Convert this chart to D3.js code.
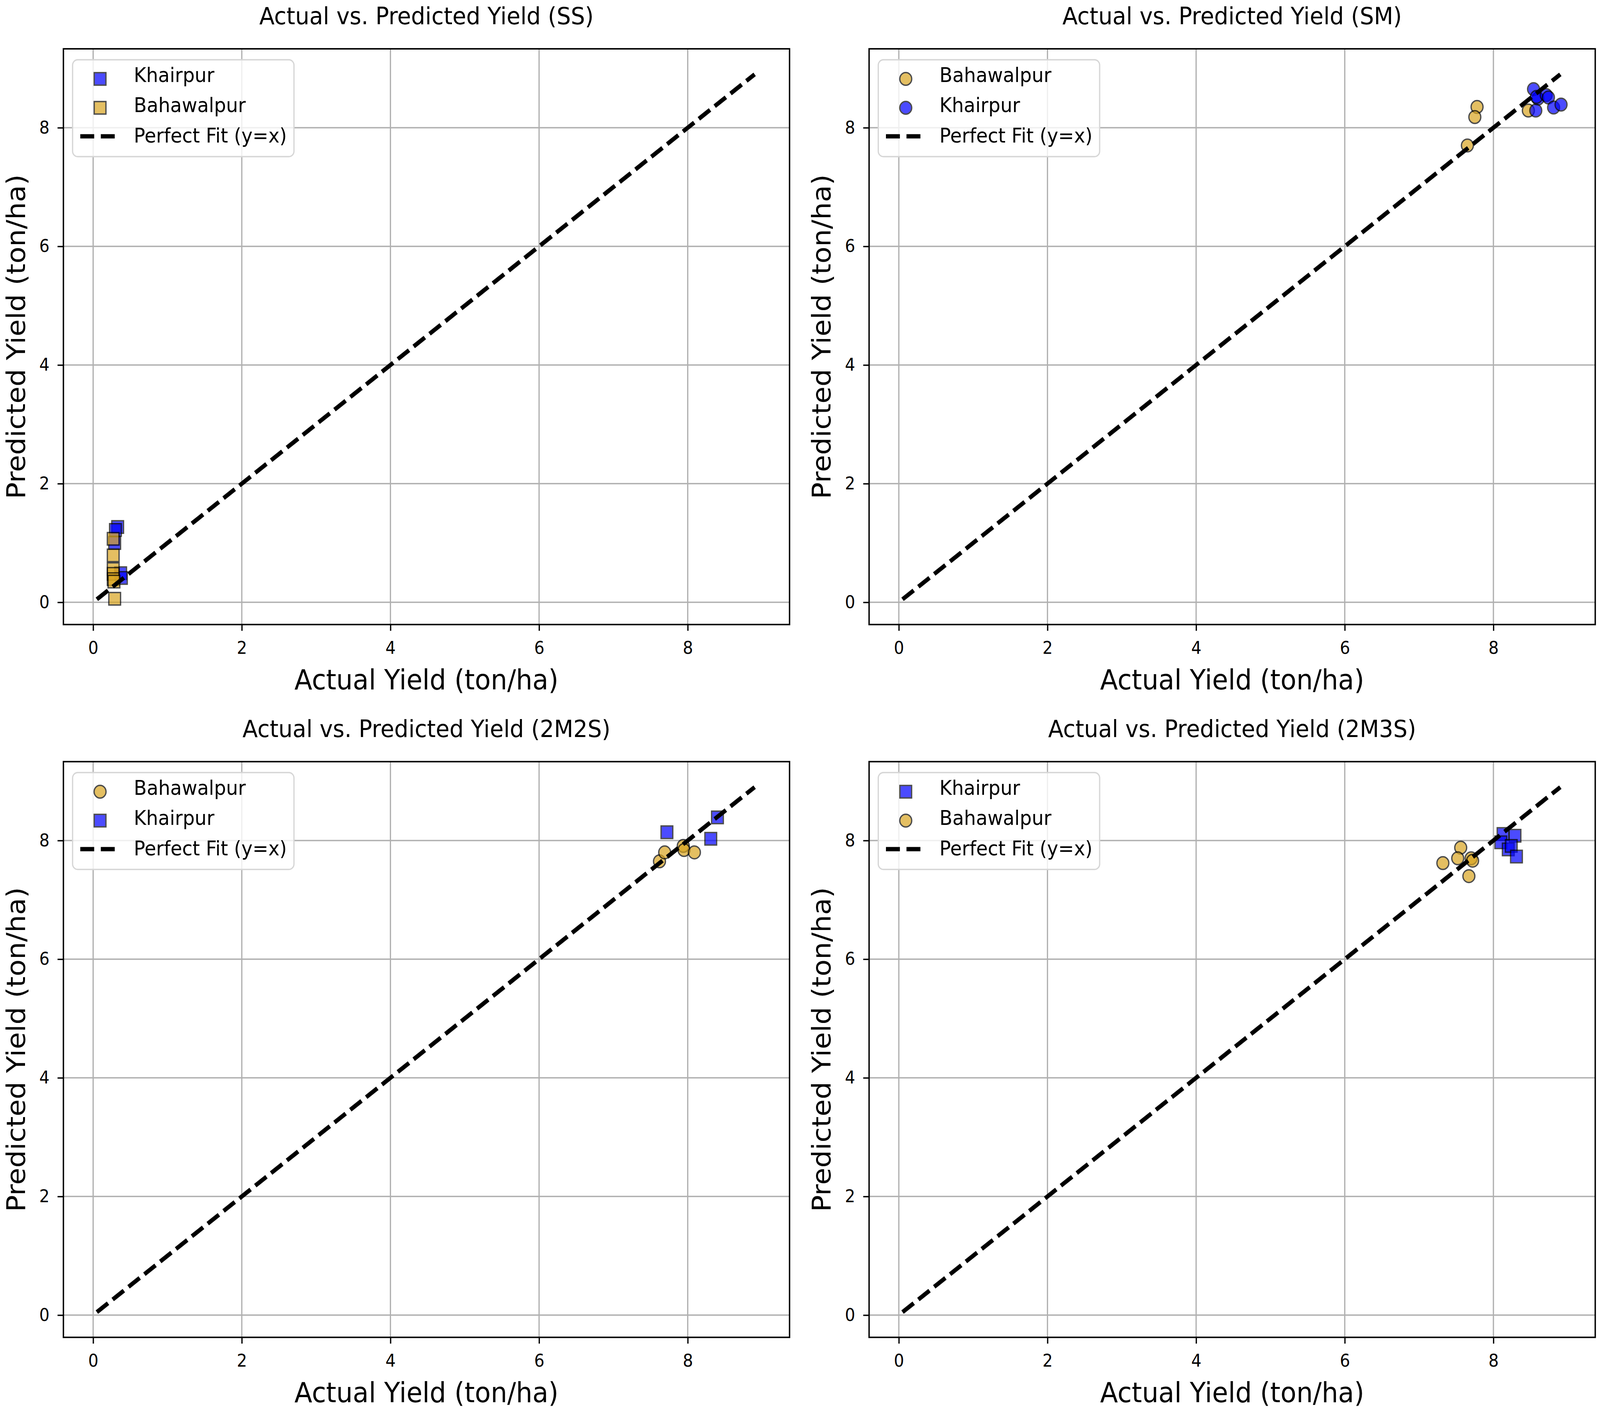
<!DOCTYPE html>
<html>
<head>
<meta charset="utf-8">
<script src="https://cdn.jsdelivr.net/npm/d3@7"></script>
<style>
  html, body { margin: 0; padding: 0; width: 100%; height: 100%; background: #fff; overflow: hidden; }
  svg { display: block; }
  text { font-family: "DejaVu Sans", sans-serif; fill: #000; }
</style>
</head>
<body>
<svg id="chart"></svg>
<script>
// values
var panelTitles = ["Actual vs. Predicted Yield (SS)", "Actual vs. Predicted Yield (SM)",
                   "Actual vs. Predicted Yield (2M2S)", "Actual vs. Predicted Yield (2M3S)"];
var tickValues = [0, 2, 4, 6, 8];
var fitLine = [0.05, 8.9];

var ssKhairpurActual = [0.33, 0.30, 0.29, 0.37, 0.38];
var ssKhairpurPred = [1.27, 1.22, 1.00, 0.49, 0.41];
var ssBahawalpurActual = [0.27, 0.27, 0.27, 0.27, 0.27, 0.28, 0.29];
var ssBahawalpurPred = [1.07, 0.79, 0.56, 0.48, 0.39, 0.35, 0.06];

var smBahawalpurActual = [7.78, 7.75, 7.65, 8.47];
var smBahawalpurPred = [8.35, 8.18, 7.70, 8.29];
var smKhairpurActual = [8.54, 8.60, 8.58, 8.71, 8.74, 8.57, 8.81, 8.91];
var smKhairpurPred = [8.65, 8.49, 8.52, 8.55, 8.51, 8.29, 8.34, 8.39];

var m2sBahawalpurActual = [7.62, 7.69, 7.94, 7.95, 8.09];
var m2sBahawalpurPred = [7.65, 7.80, 7.91, 7.84, 7.80];
var m2sKhairpurActual = [7.72, 8.40, 8.31];
var m2sKhairpurPred = [8.14, 8.39, 8.03];

var m3sKhairpurActual = [8.13, 8.29, 8.10, 8.20, 8.24, 8.31];
var m3sKhairpurPred = [8.11, 8.08, 7.97, 7.85, 7.91, 7.73];
var m3sBahawalpurActual = [7.56, 7.52, 7.32, 7.70, 7.72, 7.67];
var m3sBahawalpurPred = [7.88, 7.70, 7.62, 7.70, 7.66, 7.40];

var blue = "rgb(0,0,255)", gold = "#daa520";

function zip(a, b) {
    return a.map(function(v, i) { return {x: v, y: b[i]}; });
}

var panels = [
    {title: panelTitles[0], series: [
        {name: "Khairpur", color: blue, shape: "square", pts: zip(ssKhairpurActual, ssKhairpurPred)},
        {name: "Bahawalpur", color: gold, shape: "square", pts: zip(ssBahawalpurActual, ssBahawalpurPred)}]},
    {title: panelTitles[1], series: [
        {name: "Bahawalpur", color: gold, shape: "circle", pts: zip(smBahawalpurActual, smBahawalpurPred)},
        {name: "Khairpur", color: blue, shape: "circle", pts: zip(smKhairpurActual, smKhairpurPred)}]},
    {title: panelTitles[2], series: [
        {name: "Bahawalpur", color: gold, shape: "circle", pts: zip(m2sBahawalpurActual, m2sBahawalpurPred)},
        {name: "Khairpur", color: blue, shape: "square", pts: zip(m2sKhairpurActual, m2sKhairpurPred)}]},
    {title: panelTitles[3], series: [
        {name: "Khairpur", color: blue, shape: "square", pts: zip(m3sKhairpurActual, m3sKhairpurPred)},
        {name: "Bahawalpur", color: gold, shape: "circle", pts: zip(m3sBahawalpurActual, m3sBahawalpurPred)}]}
];

// the window may be narrower than the figure, so scale the figure to fit it
var svg = d3.select("#chart")
    .attr("width", window.innerWidth).attr("height", window.innerHeight)
    .attr("viewBox", "0 0 4365 3610")
    .attr("preserveAspectRatio", "none");
svg.append("rect").attr("width", 4365).attr("height", 3610).attr("fill", "#fff");

var colLeft = [173, 2371], rowTop = [125, 1950];
var w = 1981, h = 1474;

var x = d3.scaleLinear().domain([-0.40, 9.37]).range([0, w]);
var y = d3.scaleLinear().domain([-0.375, 9.33]).range([h, 0]);

var symbols = {
    square: d3.symbol().type(d3.symbolSquare).size(1024)(),
    circle: d3.symbol().type(d3.symbolCircle).size(830)()
};

panels.forEach(function(p, i) {
    var g = svg.append("g")
        .attr("transform", "translate(" + colLeft[i % 2] + "," + rowTop[Math.floor(i / 2)] + ")");

    // grid
    g.append("g").selectAll("line").data(tickValues).enter().append("line")
        .attr("x1", function(d) { return x(d); }).attr("x2", function(d) { return x(d); })
        .attr("y1", 0).attr("y2", h)
        .attr("stroke", "#b0b0b0").attr("stroke-width", 3.4);
    g.append("g").selectAll("line").data(tickValues).enter().append("line")
        .attr("y1", function(d) { return y(d); }).attr("y2", function(d) { return y(d); })
        .attr("x1", 0).attr("x2", w)
        .attr("stroke", "#b0b0b0").attr("stroke-width", 3.4);

    // points
    p.series.forEach(function(s) {
        g.append("g").selectAll("path").data(s.pts).enter().append("path")
            .attr("d", symbols[s.shape])
            .attr("transform", function(d) { return "translate(" + x(d.x) + "," + y(d.y) + ")"; })
            .attr("fill", s.color).attr("stroke", "#000").attr("stroke-width", 3.5)
            .attr("opacity", 0.7);
    });

    // perfect fit
    g.append("path")
        .datum(fitLine)
        .attr("d", d3.line().x(function(d) { return x(d); }).y(function(d) { return y(d); }))
        .attr("stroke", "#000").attr("stroke-width", 11).attr("fill", "none")
        .attr("stroke-dasharray", "38,16");

    // axes
    var xa = g.append("g").attr("transform", "translate(0," + h + ")")
        .call(d3.axisBottom(x).tickValues(tickValues).tickSize(16).tickPadding(28).tickFormat(d3.format("d")));
    var ya = g.append("g")
        .call(d3.axisLeft(y).tickValues(tickValues).tickSize(16).tickPadding(22).tickFormat(d3.format("d")));
    [xa, ya].forEach(function(a) {
        a.select(".domain").remove();
        a.selectAll("line").attr("stroke", "#000").attr("stroke-width", 3.5);
        a.selectAll("text").attr("font-size", 44).attr("font-family", "DejaVu Sans").attr("fill", "#000");
    });

    g.append("rect").attr("width", w).attr("height", h)
        .attr("fill", "none").attr("stroke", "#000").attr("stroke-width", 3.8);

    g.append("text").attr("x", w / 2).attr("y", -63).attr("text-anchor", "middle")
        .attr("font-size", 61).text(p.title);
    g.append("text").attr("x", w / 2).attr("y", h + 166).attr("text-anchor", "middle")
        .attr("font-size", 71).text("Actual Yield (ton/ha)");
    g.append("text").attr("transform", "translate(-105," + (h / 2) + ") rotate(-90)")
        .attr("text-anchor", "middle").attr("font-size", 71).text("Predicted Yield (ton/ha)");

    // legend
    var lg = g.append("g").attr("transform", "translate(25,28)");
    lg.append("rect").attr("width", 604).attr("height", 248).attr("rx", 14)
        .attr("fill", "#fff").attr("fill-opacity", 0.8)
        .attr("stroke", "#d6d6d6").attr("stroke-width", 3.4);
    var rows = p.series.concat([{name: "Perfect Fit (y=x)", line: true}]);
    rows.forEach(function(r, k) {
        var cy = 49 + k * 74;
        if (r.line) {
            lg.append("line").attr("x1", 21).attr("x2", 116).attr("y1", 196).attr("y2", 196)
                .attr("stroke", "#000").attr("stroke-width", 11).attr("stroke-dasharray", "38,18");
        } else {
            lg.append("path").attr("d", symbols[r.shape])
                .attr("transform", "translate(75," + cy + ")")
                .attr("fill", r.color).attr("stroke", "#000").attr("stroke-width", 3.5)
                .attr("opacity", 0.7);
        }
        lg.append("text").attr("x", 167).attr("y", 57 + k * 77.5)
            .attr("font-size", 51.5).text(r.name);
    });
});
</script>
</body>
</html>
